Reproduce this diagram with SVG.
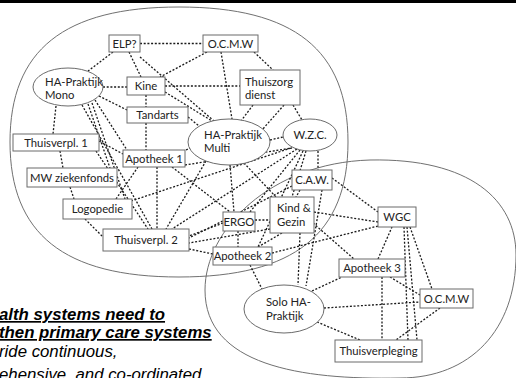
<svg xmlns="http://www.w3.org/2000/svg" width="516" height="378" viewBox="0 0 516 378">
<style>
.c{fill:none;stroke:#1a1a1a;stroke-width:1.3;stroke-dasharray:2 1.7}
.box{fill:#fff;stroke:#6b6b6b;stroke-width:1}
.region{fill:none;stroke:#707070;stroke-width:1}
.lbl{font-family:Lato,"Liberation Sans",sans-serif;font-size:11.3px;fill:#222;text-anchor:middle}
.ll{text-anchor:start}
.cap{font-family:"Liberation Sans",Arial,sans-serif;font-style:italic;font-size:16.8px;fill:#000}
.b{font-weight:bold;text-decoration:underline}
</style>
<rect x="0" y="0" width="516" height="3" fill="#000"/>
<g id="regions">
<path class="region" d="M10,142 C10,50 64,7 179,7 C294,7 348,50 348,142 C348,234 294,277 179,277 C64,277 10,234 10,142 Z"/>
<path class="region" d="M205,290 C205,230 270,163 370,160 C470,158 516,200 516,255 C516,330 470,378 400,378 C300,380 205,365 205,290 Z"/>
</g>
<g id="connectors">
<line class="c" x1="140" y1="43.5" x2="203" y2="43.5"/>
<line class="c" x1="113" y1="52" x2="88" y2="71"/>
<line class="c" x1="129" y1="52" x2="141" y2="77"/>
<line class="c" x1="140" y1="57" x2="214" y2="121"/>
<line class="c" x1="207" y1="52" x2="160" y2="77"/>
<line class="c" x1="221" y1="52" x2="232" y2="119"/>
<line class="c" x1="254" y1="52" x2="273" y2="70"/>
<line class="c" x1="103" y1="87" x2="127" y2="87"/>
<line class="c" x1="165" y1="86" x2="240" y2="86"/>
<line class="c" x1="165" y1="92" x2="212" y2="121"/>
<line class="c" x1="146" y1="95" x2="146" y2="107"/>
<line class="c" x1="146" y1="123" x2="146" y2="150"/>
<line class="c" x1="188" y1="117" x2="199" y2="126"/>
<line class="c" x1="99" y1="96" x2="127" y2="110"/>
<line class="c" x1="56" y1="106" x2="53" y2="134"/>
<line class="c" x1="95" y1="100" x2="127" y2="150"/>
<line class="c" x1="88" y1="104" x2="110" y2="168"/>
<line class="c" x1="92" y1="103" x2="125" y2="199"/>
<line class="c" x1="82" y1="105" x2="152" y2="229"/>
<line class="c" x1="96" y1="151" x2="148" y2="229"/>
<line class="c" x1="60" y1="151" x2="63" y2="168"/>
<line class="c" x1="99" y1="141" x2="123" y2="154"/>
<line class="c" x1="70" y1="187" x2="74" y2="199"/>
<line class="c" x1="116" y1="199" x2="138" y2="167"/>
<line class="c" x1="85" y1="219" x2="104" y2="238"/>
<line class="c" x1="131" y1="201" x2="291" y2="148"/>
<line class="c" x1="157" y1="167" x2="157" y2="229"/>
<line class="c" x1="186" y1="150" x2="200" y2="143"/>
<line class="c" x1="172" y1="167" x2="230" y2="212"/>
<line class="c" x1="185" y1="165" x2="292" y2="148"/>
<line class="c" x1="253" y1="105" x2="241" y2="121"/>
<line class="c" x1="284" y1="105" x2="262" y2="130"/>
<line class="c" x1="293" y1="105" x2="302" y2="120"/>
<line class="c" x1="270" y1="140" x2="283" y2="137"/>
<line class="c" x1="318" y1="151" x2="318" y2="170"/>
<line class="c" x1="297" y1="149" x2="172" y2="229"/>
<line class="c" x1="292" y1="186" x2="189" y2="238"/>
<line class="c" x1="300" y1="150" x2="250" y2="212"/>
<line class="c" x1="303" y1="151" x2="258" y2="247"/>
<line class="c" x1="306" y1="151" x2="292" y2="197"/>
<line class="c" x1="332" y1="178" x2="378" y2="212"/>
<line class="c" x1="300" y1="190" x2="296" y2="197"/>
<line class="c" x1="322" y1="190" x2="306" y2="286"/>
<line class="c" x1="300" y1="233" x2="298" y2="285"/>
<line class="c" x1="255" y1="220" x2="270" y2="220"/>
<line class="c" x1="270" y1="229" x2="189" y2="243"/>
<line class="c" x1="282" y1="233" x2="258" y2="247"/>
<line class="c" x1="244" y1="163" x2="276" y2="197"/>
<line class="c" x1="314" y1="212" x2="378" y2="222"/>
<line class="c" x1="313" y1="223" x2="354" y2="259"/>
<line class="c" x1="230" y1="165" x2="234" y2="212"/>
<line class="c" x1="206" y1="161" x2="166" y2="229"/>
<line class="c" x1="223" y1="223" x2="189" y2="236"/>
<line class="c" x1="238" y1="231" x2="238" y2="247"/>
<line class="c" x1="189" y1="249" x2="213" y2="254"/>
<line class="c" x1="272" y1="253" x2="378" y2="226"/>
<line class="c" x1="250" y1="265" x2="262" y2="289"/>
<line class="c" x1="312" y1="291" x2="342" y2="277"/>
<line class="c" x1="324" y1="308" x2="420" y2="302"/>
<line class="c" x1="317" y1="322" x2="360" y2="340"/>
<line class="c" x1="378" y1="259" x2="392" y2="227"/>
<line class="c" x1="390" y1="277" x2="420" y2="295"/>
<line class="c" x1="382" y1="277" x2="382" y2="340"/>
<line class="c" x1="410" y1="227" x2="432" y2="289"/>
<line class="c" x1="404" y1="227" x2="408" y2="340"/>
<line class="c" x1="407" y1="227" x2="417" y2="340"/>
<line class="c" x1="440" y1="308" x2="396" y2="340"/>
</g>
<g id="elp"><rect class="box" x="109" y="35" width="31" height="17"/><text class="lbl" x="124.5" y="47.5">ELP?</text></g>
<g id="ocmw1"><rect class="box" x="203" y="35" width="55" height="17"/><text class="lbl" x="230.5" y="47.5">O.C.M.W</text></g>
<g id="ha-mono"><ellipse class="box" cx="68" cy="87" rx="35" ry="19"/><text class="lbl ll" x="45" y="86">HA-Praktijk</text><text class="lbl ll" x="45" y="99">Mono</text></g>
<g id="kine"><rect class="box" x="127" y="77" width="38" height="18"/><text class="lbl" x="146" y="90">Kine</text></g>
<g id="thuiszorg"><rect class="box" x="240" y="70" width="60" height="35"/><text class="lbl ll" x="245" y="85.5">Thuiszorg</text><text class="lbl ll" x="245" y="98.5">dienst</text></g>
<g id="tandarts"><rect class="box" x="127" y="107" width="61" height="16"/><text class="lbl" x="157.5" y="119">Tandarts</text></g>
<g id="ha-multi"><ellipse class="box" cx="229" cy="142" rx="41" ry="23"/><text class="lbl ll" x="204" y="139">HA-Praktijk</text><text class="lbl ll" x="204" y="152">Multi</text></g>
<g id="wzc"><ellipse class="box" cx="310" cy="135" rx="27" ry="16"/><text class="lbl" x="310" y="139">W.Z.C.</text></g>
<g id="thuisverpl1"><rect class="box" x="13" y="134" width="86" height="17"/><text class="lbl" x="56" y="146.5">Thuisverpl. 1</text></g>
<g id="apotheek1"><rect class="box" x="123" y="150" width="62" height="17"/><text class="lbl" x="154" y="162.5">Apotheek 1</text></g>
<g id="mw"><rect class="box" x="27" y="168" width="90" height="19"/><text class="lbl" x="72" y="181.5">MW ziekenfonds</text></g>
<g id="logopedie"><rect class="box" x="63" y="199" width="69" height="20"/><text class="lbl" x="97.5" y="213">Logopedie</text></g>
<g id="thuisverpl2"><rect class="box" x="103" y="229" width="86" height="22"/><text class="lbl" x="146" y="244">Thuisverpl. 2</text></g>
<g id="caw"><rect class="box" x="292" y="170" width="40" height="20"/><text class="lbl" x="312" y="184">C.A.W.</text></g>
<g id="ergo"><rect class="box" x="223" y="212" width="32" height="19"/><text class="lbl" x="239" y="225.5">ERGO</text></g>
<g id="kind-gezin"><rect class="box" x="270" y="197" width="44" height="36"/><text class="lbl ll" x="277" y="211.5">Kind &amp;</text><text class="lbl ll" x="277" y="225.5">Gezin</text></g>
<g id="apotheek2"><rect class="box" x="213" y="247" width="59" height="18"/><text class="lbl" x="242.5" y="260">Apotheek 2</text></g>
<g id="wgc"><rect class="box" x="378" y="207" width="38" height="20"/><text class="lbl" x="397" y="221">WGC</text></g>
<g id="apotheek3"><rect class="box" x="339" y="259" width="66" height="18"/><text class="lbl" x="372" y="272">Apotheek 3</text></g>
<g id="ocmw2"><rect class="box" x="420" y="289" width="53" height="19"/><text class="lbl" x="446.5" y="302.5">O.C.M.W</text></g>
<g id="solo"><ellipse class="box" cx="284" cy="309" rx="40" ry="24"/><text class="lbl ll" x="266" y="306">Solo HA-</text><text class="lbl ll" x="266" y="320">Praktijk</text></g>
<g id="thuisverpleging"><rect class="box" x="335" y="340" width="87" height="22"/><text class="lbl" x="378.5" y="355">Thuisverpleging</text></g>
<g id="caption">
<text class="cap b" x="-1" y="320">alth systems need to</text>
<text class="cap b" x="-1" y="338">then primary care systems</text>
<text class="cap" x="-1" y="357">ride continuous,</text>
<text class="cap" x="-1" y="380">ehensive, and co-ordinated</text>
</g>
</svg>
